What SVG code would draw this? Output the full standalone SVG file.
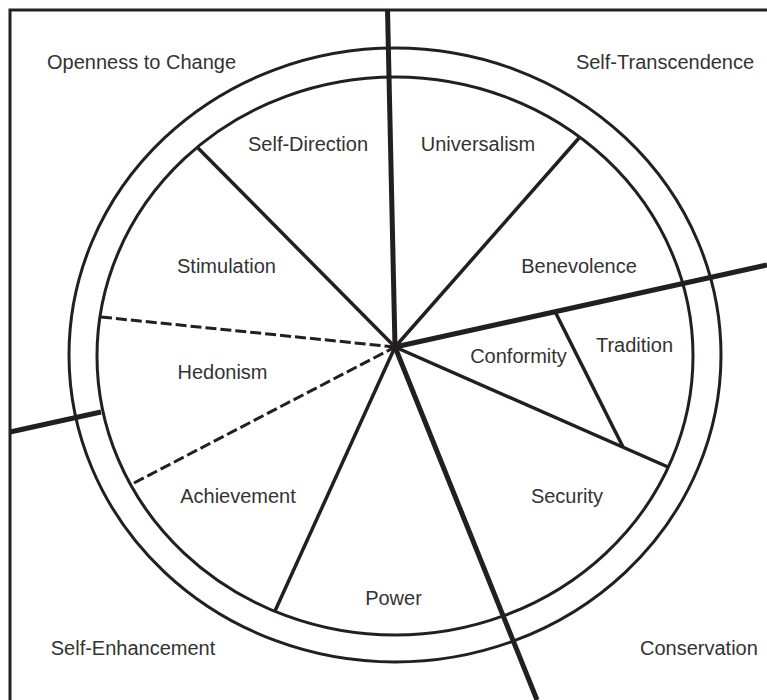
<svg xmlns="http://www.w3.org/2000/svg" width="767" height="700" viewBox="0 0 767 700">
  <style>
    .frame { fill: none; stroke: #231f20; stroke-width: 3; }
    .ring { fill: none; stroke: #231f20; stroke-width: 3; }
    .divider { stroke: #231f20; stroke-width: 5; fill: none; }
    .spoke { stroke: #231f20; stroke-width: 3.5; fill: none; }
    .dashed { stroke: #231f20; stroke-width: 3; fill: none; stroke-dasharray: 11 4; }
    text { font-family: "Liberation Sans", Arial, Helvetica, sans-serif; font-size: 20px; fill: #333; }
    .mid { text-anchor: middle; }
  </style>
  <rect width="767" height="700" fill="#fff"/>

  <!-- outer frame (left and top edges) -->
  <g id="frame">
    <path class="frame" d="M10,700 L10,10 L767,10"/>
  </g>

  <!-- concentric rings -->
  <g id="rings">
    <ellipse class="ring" cx="395" cy="355" rx="326" ry="307"/>
    <ellipse class="ring" cx="395" cy="356" rx="298" ry="279"/>
  </g>

  <g id="connectors">
    <!-- quadrant dividers -->
    <line class="divider" x1="387.5" y1="9" x2="395" y2="347"/>
    <line class="divider" x1="395" y1="347" x2="767" y2="265"/>
    <line class="divider" x1="395" y1="347" x2="537" y2="700"/>
    <line class="divider" x1="10" y1="432" x2="101" y2="412"/>
    <!-- value spokes -->
    <line class="spoke" x1="395" y1="347" x2="198" y2="148"/>
    <line class="spoke" x1="395" y1="347" x2="579" y2="138"/>
    <line class="spoke" x1="395" y1="347" x2="668" y2="467"/>
    <line class="spoke" x1="395" y1="347" x2="275" y2="611"/>
    <line class="spoke" x1="555" y1="311.5" x2="623" y2="447"/>
    <!-- hedonism boundaries -->
    <line class="dashed" x1="101" y1="317" x2="395" y2="347"/>
    <line class="dashed" x1="134" y1="483" x2="395" y2="347"/>
  </g>

  <!-- higher-order quadrants -->
  <g id="openness"><text class="mid" x="141.5" y="69">Openness to Change</text></g>
  <g id="self-transcendence"><text class="mid" x="665" y="69">Self-Transcendence</text></g>
  <g id="self-enhancement"><text class="mid" x="133" y="655">Self-Enhancement</text></g>
  <g id="conservation"><text x="640" y="655">Conservation</text></g>

  <!-- value types -->
  <g id="self-direction"><text class="mid" x="308" y="151">Self-Direction</text></g>
  <g id="universalism"><text class="mid" x="478" y="151">Universalism</text></g>
  <g id="stimulation"><text class="mid" x="226.5" y="273">Stimulation</text></g>
  <g id="benevolence"><text class="mid" x="579" y="273">Benevolence</text></g>
  <g id="hedonism"><text class="mid" x="222.5" y="379">Hedonism</text></g>
  <g id="conformity"><text class="mid" x="518.5" y="363">Conformity</text></g>
  <g id="tradition"><text class="mid" x="634.5" y="352">Tradition</text></g>
  <g id="achievement"><text class="mid" x="238" y="503">Achievement</text></g>
  <g id="security"><text class="mid" x="567" y="503">Security</text></g>
  <g id="power"><text class="mid" x="393.5" y="605">Power</text></g>
</svg>
